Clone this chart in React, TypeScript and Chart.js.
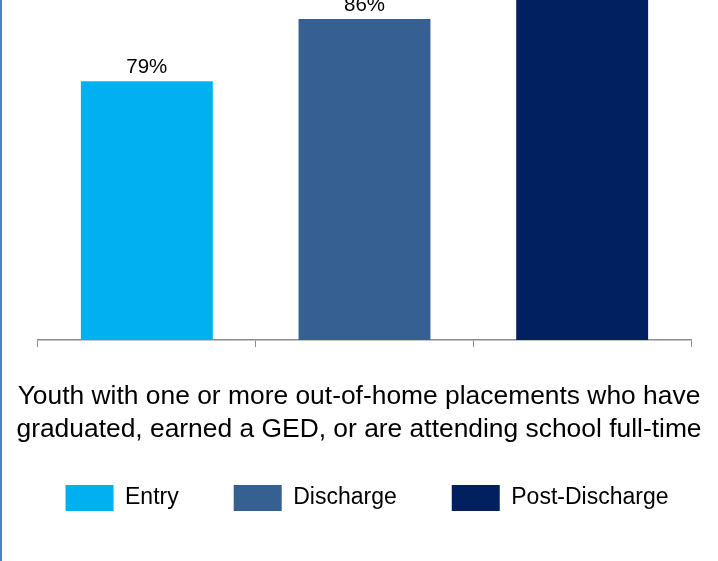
import React, { useEffect, useRef } from "react";
import { Chart, registerables } from "chart.js";

Chart.register(...registerables);

// ---- data ----
const categories = ["Entry", "Discharge", "Post-Discharge"];
const entryValues = [79, null, null];
const dischargeValues = [null, 86, null];
const postDischargeValues = [null, null, 92];
const seriesNames = ["Entry", "Discharge", "Post-Discharge"];
const seriesColors = ["#00b0f0", "#376092", "#002060"];
const titleLines = [
  "Youth with one or more out-of-home placements who have",
  "graduated, earned a GED, or are attending school full-time",
];
const yMin = 50;
const yMax = 100;

const FONT = '"Liberation Sans", Arial, sans-serif';

const valueLabelPlugin = {
  id: "valueLabels",
  afterDatasetsDraw(chart: any) {
    const ctx = chart.ctx;
    ctx.save();
    ctx.font = `20.5px ${FONT}`;
    ctx.fillStyle = "#000000";
    ctx.textAlign = "center";
    ctx.textBaseline = "alphabetic";
    chart.data.datasets.forEach((ds: any, di: number) => {
      const meta = chart.getDatasetMeta(di);
      meta.data.forEach((el: any, i: number) => {
        const v = ds.data[i];
        if (v === null || v === undefined) return;
        ctx.fillText(`${v}%`, el.x, el.y - 8);
      });
    });
    ctx.restore();
  },
};

// nudges the legend row a few pixels right, as in the original slide
const legendShiftPlugin = {
  id: "legendShift",
  afterLayout(chart: any) {
    if (chart.legend) {
      chart.legend.left += 8;
      chart.legend.right += 8;
    }
  },
};

export default function App() {
  const canvasRef = useRef<HTMLCanvasElement | null>(null);

  useEffect(() => {
    const canvas = canvasRef.current;
    if (!canvas) return;
    const seriesData = [entryValues, dischargeValues, postDischargeValues];
    const chart = new Chart(canvas, {
      type: "bar",
      data: {
        labels: categories,
        datasets: seriesNames.map((name, i) => ({
          label: name,
          data: seriesData[i],
          backgroundColor: seriesColors[i],
          borderWidth: 0,
          grouped: false,
          categoryPercentage: 1,
          barPercentage: 0.606,
        })),
      },
      options: {
        responsive: false,
        animation: false,
        devicePixelRatio: 1,
        layout: { padding: { top: 24, bottom: 40, left: 0, right: 0 } },
        scales: {
          x: {
            type: "category",
            offset: true,
            grid: {
              display: true,
              offset: true,
              drawOnChartArea: false,
              drawTicks: true,
              tickLength: 7,
              color: "#8c8c8c",
              lineWidth: 1,
            },
            border: { display: true, color: "#8c8c8c", width: 1.5 },
            ticks: { display: false },
          },
          y: {
            type: "linear",
            position: "left",
            min: yMin,
            max: yMax,
            grid: { display: false },
            ticks: { display: false },
            border: { display: false },
            afterFit: (s: any) => {
              s.width = 38;
            },
          },
          y2: {
            type: "linear",
            position: "right",
            min: 0,
            max: 1,
            grid: { display: false },
            ticks: { display: false },
            border: { display: false },
            afterFit: (s: any) => {
              s.width = 27;
            },
          },
        },
        plugins: {
          tooltip: { enabled: false },
          title: {
            display: true,
            position: "bottom",
            text: titleLines,
            color: "#000000",
            font: { family: FONT, size: 26.4, weight: "normal", lineHeight: 1.25 },
            padding: { top: 33.5, bottom: -16.5 },
            weight: 500,
            fullSize: true,
          },
          legend: {
            display: true,
            position: "bottom",
            fullSize: true,
            weight: 1000,
            labels: {
              color: "#000000",
              font: { family: FONT, size: 23 },
              boxWidth: 48,
              boxHeight: 26,
              padding: 55,
            },
          },
        },
      } as any,
      plugins: [valueLabelPlugin, legendShiftPlugin],
    });
    return () => chart.destroy();
  }, []);

  return (
    <div
      style={{
        position: "fixed",
        left: 0,
        top: 0,
        width: 718,
        height: 561,
        overflow: "hidden",
        background: "#ffffff",
      }}
    >
      <canvas
        ref={canvasRef}
        width={718}
        height={691}
        style={{ position: "absolute", left: 0, top: -130, width: 718, height: 691 }}
      />
      <div
        style={{
          position: "absolute",
          left: 0,
          top: 0,
          width: 2,
          height: 561,
          background: "#4f7fbd",
        }}
      />
    </div>
  );
}
